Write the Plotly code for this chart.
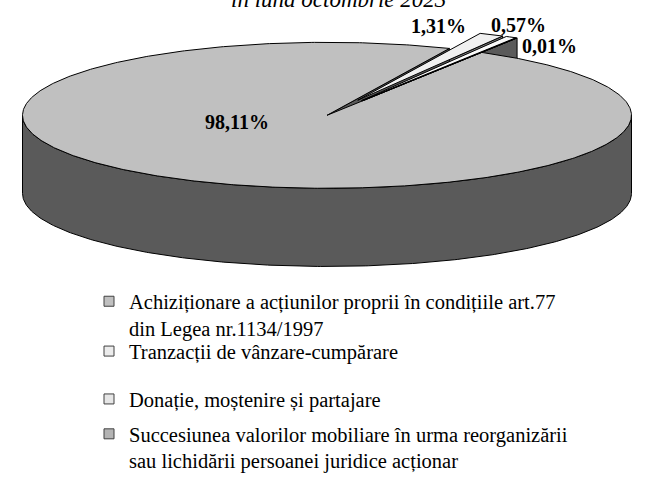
import numpy as np
import plotly.graph_objects as go

# ---------------- data ----------------
categories = [
    "Achiziționare a acțiunilor proprii în condițiile art.77<br>din Legea nr.1134/1997",
    "Tranzacții de vânzare-cumpărare",
    "Donație, moștenire și partajare",
    "Succesiunea valorilor mobiliare în urma reorganizării<br>sau lichidării persoanei juridice acționar",
]
values = [98.11, 1.31, 0.57, 0.01]
value_labels = ["98,11%", "1,31%", "0,57%", "0,01%"]
title_text = "în luna octombrie 2023"

# ---------------- style ----------------
top_colors = ["#c0c0c0", "#f0f0f0", "#fafafa", "#b4b4b4"]
side_colors = ["#5a5a5a", "#7a7a7a", "#7a7a7a", "#5a5a5a"]
legend_colors = ["#c0c0c0", "#ececec", "#e6e6e6", "#b4b4b4"]
W, H = 651, 481
CX, CY, RX, RY, DEPTH = 327.0, 118.0, 304.5, 74.7, 80.0
START = 30.5          # degrees clockwise from 12 o'clock
EXPLODE = [0.0, 0.23, 0.23, 0.23]
FONT = "Liberation Serif, Times New Roman, serif"
LINE = dict(color="#000000", width=1)

total = sum(values)
spans = [v / total * 360.0 for v in values]
bounds = []
a = START
for s in spans:
    bounds.append((a, a + s))
    a += s


def offset(i):
    a0, a1 = bounds[i]
    m = np.radians((a0 + a1) / 2)
    return EXPLODE[i] * RX * np.sin(m), -EXPLODE[i] * RY * np.cos(m)


def rim(theta, ox=0.0, oy=0.0, dz=0.0):
    t = np.radians(np.asarray(theta, dtype=float))
    return CX + ox + RX * np.sin(t), CY + oy - RY * np.cos(t) + dz


def arc(a0, a1, ox=0.0, oy=0.0, dz=0.0, n=None):
    if n is None:
        n = max(3, int(abs(a1 - a0) * 2))
    return rim(np.linspace(a0, a1, n), ox, oy, dz)


fig = go.Figure()


def poly(xs, ys, color, name=""):
    xs = list(xs) + [xs[0]]
    ys = list(ys) + [ys[0]]
    fig.add_trace(go.Scatter(x=xs, y=ys, mode="lines", fill="toself",
                             fillcolor=color, line=LINE, showlegend=False,
                             hoverinfo="skip", name=name))


def radial_face(i, theta):
    ox, oy = offset(i)
    xt, yt = rim([theta], ox, oy)
    cx0, cy0 = CX + ox, CY + oy
    poly([cx0, xt[0], xt[0], cx0], [cy0, yt[0], yt[0] + DEPTH, cy0 + DEPTH],
         side_colors[i])


# 1. walls of the exploded small slices (clockwise faces)
for i in range(1, len(values)):
    radial_face(i, bounds[i][1])

# 2. end face of the big slice
radial_face(0, bounds[0][1])

# 3. outer (front) side of the big slice
a0, a1 = bounds[0]
lo, hi = max(a0, 90.0), min(a1, 270.0)
xt, yt = arc(lo, hi)
xb, yb = arc(hi, lo, dz=DEPTH)
poly(np.concatenate([xt, xb]), np.concatenate([yt, yb]), side_colors[0])

# 4. top faces
for i in range(len(values)):
    ox, oy = offset(i)
    a0, a1 = bounds[i]
    xa, ya = arc(a0, a1, ox, oy)
    poly(np.concatenate([[CX + ox], xa]), np.concatenate([[CY + oy], ya]),
         top_colors[i], categories[i])

# ---------------- legend (one legend per entry, for exact placement) ----------------
legend_rows = [303, 354, 403, 439]
legend_names = ["legend", "legend2", "legend3", "legend4"]
for i, name in enumerate(categories):
    fig.add_trace(go.Scatter(
        x=[None], y=[None], mode="markers", name=name,
        marker=dict(symbol="square", size=10, color=legend_colors[i],
                    line=dict(color="#404040", width=1)),
        legend=legend_names[i], showlegend=True, hoverinfo="skip"))

legend_style = dict(font=dict(family=FONT, size=20.5, color="#000000"),
                    bgcolor="rgba(0,0,0,0)", xanchor="left", yanchor="top",
                    valign="top", itemwidth=30, tracegroupgap=0)
layout_legends = {}
for i, ln in enumerate(legend_names):
    layout_legends[ln] = dict(legend_style, x=(89) / W,
                              y=1 - (legend_rows[i] - 15) / H)

# ---------------- labels ----------------
annotations = []
label_shift = [(0, 36), (-53, 9), (7, 12), (33, -8)]
a0, a1 = bounds[0]
mx, my = rim([(a0 + a1) / 2])
for i in range(len(values)):
    ox, oy = offset(i)
    a0, a1 = bounds[i]
    if i == 0:
        xr, yr = [CX + (mx[0] - CX) * 0.65], [CY + (my[0] - CY) * 0.65]
    else:
        xr, yr = rim([(a0 + a1) / 2], ox, oy)
    annotations.append(dict(
        x=xr[0], y=yr[0], xref="x", yref="y", text="<b>" + value_labels[i] + "</b>",
        showarrow=False, xshift=label_shift[i][0], yshift=label_shift[i][1],
        font=dict(family=FONT, size=20, color="#000000")))

annotations.append(dict(
    x=338, y=14, xref="x", yref="y", text="<i>" + title_text + "</i>",
    showarrow=False, yanchor="bottom",
    font=dict(family=FONT, size=23, color="#000000")))

fig.update_layout(
    width=W, height=H, margin=dict(l=0, r=0, t=0, b=0),
    paper_bgcolor="#ffffff", plot_bgcolor="#ffffff",
    xaxis=dict(range=[0, W], visible=False, fixedrange=True),
    yaxis=dict(range=[H, 0], visible=False, fixedrange=True),
    annotations=annotations,
    **layout_legends,
)

fig.write_html("out.html", config={"displayModeBar": False},
               post_script="document.body.style.margin='0';")
